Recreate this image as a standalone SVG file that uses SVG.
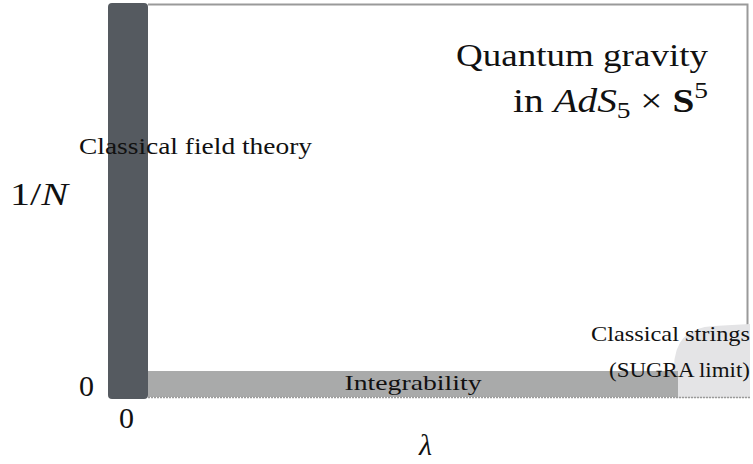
<svg xmlns="http://www.w3.org/2000/svg" width="753" height="464" viewBox="0 0 753 464">
<style>
text{font-family:"Liberation Serif","Times New Roman",Times,serif;fill:#111}
.m{font-style:italic}
</style>
<rect width="753" height="464" fill="#fff"/>
<g id="frame">
<polyline points="148,4.5 747.5,4.5 747.5,326" fill="none" stroke="#9a9a9a" stroke-width="2"/>
</g>
<g id="sugra">
<path d="M674,398 L674,368 Q674,328 714,326 L750,324 L750,398 Z" fill="#e4e4e6"/>
</g>
<g id="integrability">
<rect x="148" y="371" width="530" height="26" fill="#a9aaaa"/>
<line x1="148" y1="397.5" x2="750" y2="397.5" stroke="#9a9a9a" stroke-width="1.5" stroke-dasharray="2,1"/>
<text x="413" y="390" font-size="22" text-anchor="middle" textLength="137" lengthAdjust="spacingAndGlyphs">Integrability</text>
</g>
<g id="classical-field">
<rect x="108" y="3" width="40" height="396" rx="4" fill="#555a60"/>
<text x="79" y="154" font-size="23" textLength="233" lengthAdjust="spacingAndGlyphs">Classical field theory</text>
</g>
<g id="strings-text">
<text x="750" y="341" font-size="22" text-anchor="end" textLength="159" lengthAdjust="spacingAndGlyphs">Classical strings</text>
<text x="750" y="377" font-size="22" text-anchor="end" textLength="141" lengthAdjust="spacingAndGlyphs">(SUGRA limit)</text>
</g>
<g id="quantum">
<text x="708" y="66" font-size="32" text-anchor="end" textLength="252" lengthAdjust="spacingAndGlyphs">Quantum gravity</text>
<text x="513" y="112" font-size="33" textLength="195" lengthAdjust="spacingAndGlyphs">in <tspan class="m">AdS</tspan><tspan font-size="23" dy="6">5</tspan><tspan dy="-6"> × </tspan><tspan font-weight="bold">S</tspan><tspan font-size="23" dy="-14">5</tspan></text>
</g>
<g id="axes">
<text x="10" y="205" font-size="32" textLength="58" lengthAdjust="spacingAndGlyphs">1/<tspan class="m">N</tspan></text>
<text x="79" y="396" font-size="30">0</text>
<text x="119" y="428" font-size="30">0</text>
<text x="419" y="455" font-size="30" class="m">λ</text>
</g>
</svg>
